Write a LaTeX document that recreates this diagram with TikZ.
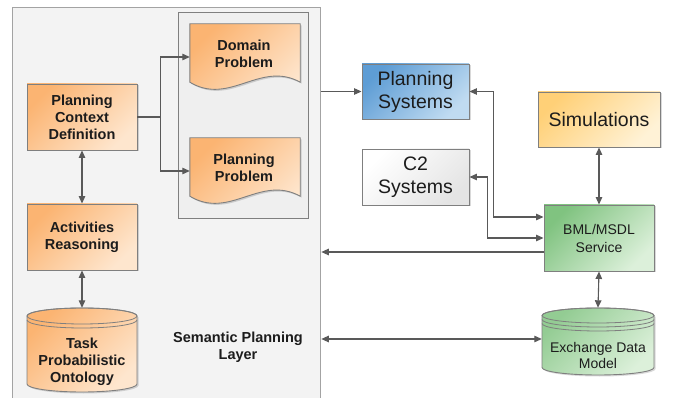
\documentclass[tikz,border=0pt]{standalone}
\usepackage{fontspec}
\setmainfont{Liberation Sans}
\usetikzlibrary{arrows.meta,calc,shadows}

\definecolor{laybg}{HTML}{F3F3F3}
\definecolor{docbg}{HTML}{EFEFEF}
\definecolor{layline}{HTML}{A3A3A3}
\definecolor{edge}{HTML}{7F7F7F}
\definecolor{wire}{HTML}{595959}
\definecolor{orgA}{HTML}{FBB472}
\definecolor{orgB}{HTML}{FEE6CE}
\definecolor{bluA}{HTML}{5E9DD5}
\definecolor{bluB}{HTML}{C0DBF1}
\definecolor{gryA}{HTML}{FFFFFF}
\definecolor{gryB}{HTML}{E4E4E4}
\definecolor{ylwA}{HTML}{FFD077}
\definecolor{ylwB}{HTML}{FFF2D6}
\definecolor{grnA}{HTML}{80C380}
\definecolor{grnB}{HTML}{DCF0DA}
\definecolor{ink}{HTML}{1C1C1C}

\begin{document}
\begin{tikzpicture}[x=1pt,y=1pt,
  softshadow/.style={drop shadow={shadow xshift=1.5pt,shadow yshift=-1.5pt,opacity=0.15,fill=black}},
  grad/.style 2 args={top color=#1,bottom color=#2,shading angle=45},
  box/.style={draw=edge,line width=0.9pt,inner sep=0pt,align=center,text=ink,softshadow},
  boldtext/.style={font=\bfseries\fontsize{14.5}{17}\selectfont,text=ink,align=center,inner sep=0pt},
  orangebox/.style={box,boldtext,grad={orgA}{orgB},minimum width=110pt,minimum height=66pt},
  bigtext/.style={font=\fontsize{19.5}{23}\selectfont},
  smalltext/.style={font=\fontsize{14}{18}\selectfont},
  frame/.style={inner sep=0pt,minimum width=#1},
  paintorange/.style={draw=edge,line width=0.9pt,grad={orgA}{orgB},softshadow},
  paintgreen/.style={draw=edge,line width=0.9pt,grad={grnA!85}{grnB},softshadow},
  ring/.style={draw=edge,line width=0.8pt},
  arr/.style={draw=wire,line width=1.1pt,-{Triangle[length=7.5pt,width=6.5pt]}},
  biarr/.style={draw=wire,line width=1.1pt,{Triangle[length=7.5pt,width=6.5pt]}-{Triangle[length=7.5pt,width=6.5pt]}}
]
\useasboundingbox (0,0) rectangle (675,-398);
\clip (0,0) rectangle (675,-398);

% semantic planning layer and the group of planning documents
\node[draw=layline,line width=1.3pt,fill=laybg,inner sep=0pt,
      minimum width=308pt,minimum height=402pt,anchor=north west] (layer) at (12,-7) {};
\node[draw=edge,line width=0.9pt,fill=docbg,inner sep=0pt,
      minimum width=130pt,minimum height=206pt,anchor=north west] (docs) at (178,-12) {};
\node[boldtext] (layertitle) at (238,-347) {Semantic Planning\\Layer};

% left column
\node[orangebox] (pcd) at (82,-117) {Planning\\Context\\Definition};
\node[orangebox] (act) at (82,-237) {Activities\\Reasoning};

% task ontology cylinder
\node[frame=110pt,minimum height=84pt] (task) at (82,-350) {};
\path[paintorange] (27,-316) -- (27,-384)
   arc[start angle=180,end angle=360,x radius=55,y radius=8] -- (137,-316)
   arc[start angle=0,end angle=180,x radius=55,y radius=8] -- cycle;
\draw[ring] (82,-316) ellipse[x radius=55,y radius=8];
\draw[ring] (27,-320) arc[start angle=180,end angle=360,x radius=55,y radius=8];
\node[boldtext] (tasktext) at (82,-362) {Task\\Probabilistic\\Ontology};

% document shapes
\node[frame=110pt,minimum height=58pt] (dom) at (245,-53) {};
\path[paintorange] (dom.north west) -- (dom.north east) -- (dom.south east)
   .. controls +(-40,22) and +(40,-24) .. (dom.south west) -- cycle;
\node[boldtext] (domtext) at (244,-54) {Domain\\Problem};

\node[frame=110pt,minimum height=58pt] (plan) at (245,-167) {};
\path[paintorange] (plan.north west) -- (plan.north east) -- (plan.south east)
   .. controls +(-40,22) and +(40,-24) .. (plan.south west) -- cycle;
\node[boldtext] (plantext) at (244,-168) {Planning\\Problem};

% external systems
\node[box,bigtext,grad={bluA}{bluB},minimum width=107pt,minimum height=55pt] (ps) at (415.5,-91.5) {Planning\\Systems};
\node[box,bigtext,grad={gryA}{gryB},minimum width=107pt,minimum height=56pt] (c2) at (415.5,-177) {C2\\Systems};
\node[box,bigtext,grad={ylwA}{ylwB},minimum width=122pt,minimum height=55pt] (sim) at (599,-119.5) {Simulations};
\node[box,smalltext,grad={grnA}{grnB},minimum width=110pt,minimum height=66pt] (bml) at (599,-238) {BML/MSDL\\Service};

% exchange data model cylinder
\node[frame=112pt,minimum height=67pt] (exch) at (598,-341.5) {};
\path[paintgreen] (542,-315.5) -- (542,-367.5)
   arc[start angle=180,end angle=360,x radius=56,y radius=7.5] -- (654,-315.5)
   arc[start angle=0,end angle=180,x radius=56,y radius=7.5] -- cycle;
\draw[ring] (598,-315.5) ellipse[x radius=56,y radius=7.5];
\draw[ring] (542,-319.5) arc[start angle=180,end angle=360,x radius=56,y radius=7.5];
\draw[ring] (542,-323.5) arc[start angle=180,end angle=360,x radius=56,y radius=7.5];
\node[inner sep=0pt,align=center,text=ink,font=\fontsize{14}{16}\selectfont] (exchtext) at (598,-355) {Exchange Data\\Model};

% connectors
\coordinate (bmlout) at ($(bml.west)+(0,-14)$);
\coordinate (exchin) at ($(exch.west)+(0,2.5)$);
\draw[arr] (layer.east |- ps.west) -- (ps.west);
\draw[arr] (pcd.east) -- ++(23,0) coordinate (split) |- ($(dom.west)+(0,-4)$);
\draw[arr] (split) |- ($(plan.west)+(0,-4)$);
\draw[biarr] (pcd.south) -- (act.north);
\draw[biarr] (act.south) -- (task.north);
\draw[biarr] (ps.east) -- ++(24,0) |- ($(bml.west)+(0,21)$);
\draw[biarr] (c2.east) -- ++(18,0) |- (bml.west);
\draw[arr] (bmlout) -- (layer.east |- bmlout);
\draw[biarr] (layer.east |- exchin) -- (exchin);
\draw[biarr] (sim.south) -- (bml.north);
\draw[biarr] (bml.south) -- (exch.north);
\end{tikzpicture}
\end{document}
